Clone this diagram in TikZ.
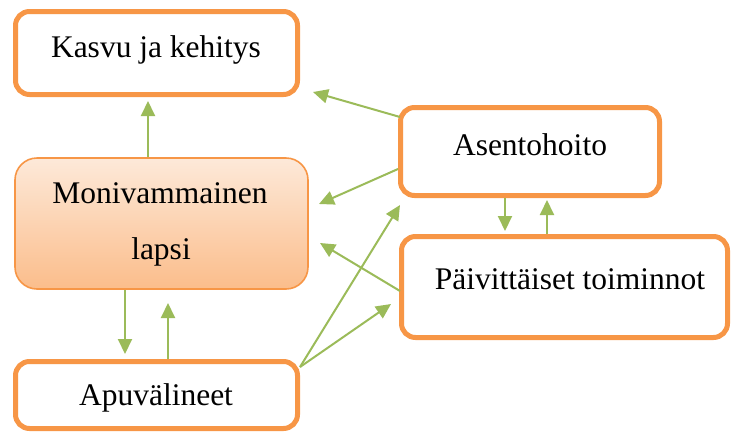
\documentclass[tikz,border=0pt]{standalone}
\usepackage{fontspec}
\setmainfont{Liberation Serif}
\usetikzlibrary{arrows.meta}
\definecolor{borange}{HTML}{F79646}
\definecolor{agreen}{HTML}{9BBB59}
\definecolor{gtop}{HTML}{FDE9D9}
\definecolor{gbot}{HTML}{FBBD8B}
\tikzset{
  box/.style={draw=borange, line width=5pt, rounded corners=14pt, fill=white, inner sep=0pt, outer sep=0pt},
  softbox/.style={draw=borange, line width=1.6pt, rounded corners=22pt, top color=gtop, bottom color=gbot, inner sep=0pt, outer sep=0pt},
  lbl/.style={font=\fontsize{31.5pt}{38pt}\selectfont, inner sep=0pt, anchor=base},
  arr/.style={draw=agreen, line width=2pt, -{Triangle[length=15pt,width=14pt]}}
}
\begin{document}
\begin{tikzpicture}[x=1pt,y=-1pt]
\useasboundingbox (0,0) rectangle (731,432);
% boxes
\node[box, minimum width=282pt, minimum height=83pt] (kasvu) at (156.5,53) {};
\node[softbox, minimum width=293pt, minimum height=131pt] (mon) at (161.5,223.5) {};
\node[box, minimum width=282pt, minimum height=67pt] (apu) at (156.5,395) {};
\node[box, minimum width=259pt, minimum height=88pt] (asento) at (530,151.5) {};
\node[box, minimum width=326pt, minimum height=101pt] (paiv) at (564.5,287) {};
% labels
\node[lbl] (tkasvu) at (156,57) {Kasvu ja kehitys};
\node[lbl] (tmon1) at (160,203) {Monivammainen};
\node[lbl] (tmon2) at (161,259) {lapsi};
\node[lbl] (tapu) at (156,405) {Apuvälineet};
\node[lbl] (tasento) at (530,155) {Asentohoito};
\node[lbl] (tpaiv) at (570,289) {Päivittäiset toiminnot};
% connector end points
\coordinate (a1s) at (148,157); \coordinate (a1e) at (148,101);
\coordinate (a2s) at (400,117); \coordinate (a2e) at (313,92);
\coordinate (a3s) at (398,169); \coordinate (a3e) at (319,204);
\coordinate (a4s) at (400,291); \coordinate (a4e) at (320,243);
\coordinate (a5s) at (300,367); \coordinate (a5e) at (400,205);
\coordinate (a6s) at (300,367); \coordinate (a6e) at (391,304);
\coordinate (a7s) at (125,290); \coordinate (a7e) at (125,354);
\coordinate (a8s) at (168,359); \coordinate (a8e) at (168,303);
\coordinate (a9s) at (505,198); \coordinate (a9e) at (505,231);
\coordinate (a10s) at (547,234); \coordinate (a10e) at (547,200);
% connectors
\draw[arr] (a1s) -- (a1e);
\draw[arr] (a2s) -- (a2e);
\draw[arr] (a3s) -- (a3e);
\draw[arr] (a4s) -- (a4e);
\draw[arr] (a5s) -- (a5e);
\draw[arr] (a6s) -- (a6e);
\draw[arr] (a7s) -- (a7e);
\draw[arr] (a8s) -- (a8e);
\draw[arr] (a9s) -- (a9e);
\draw[arr] (a10s) -- (a10e);
\end{tikzpicture}
\end{document}
